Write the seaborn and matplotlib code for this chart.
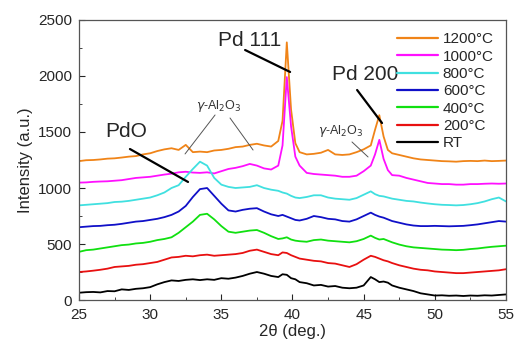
import pandas as pd
import matplotlib
matplotlib.use('Agg')
import matplotlib.pyplot as plt
from matplotlib.ticker import MultipleLocator
import seaborn as sns

# 2-theta grid (deg), finer near the Pd peaks
two_theta = [25, 25.5, 26, 26.5, 27, 27.5, 28, 28.5, 29, 29.5, 30, 30.5, 31, 31.5,
             32, 32.5, 33, 33.5, 34, 34.5, 35, 35.5, 36, 36.5, 37, 37.5, 38, 38.5, 39,
             39.3, 39.6, 39.9, 40.2,
             40.5, 41, 41.5, 42, 42.5, 43, 43.5, 44, 44.5, 45, 45.5,
             45.8, 46.1, 46.4, 46.7,
             47, 47.5, 48, 48.5, 49, 49.5, 50, 50.5, 51, 51.5, 52, 52.5, 53, 53.5, 54, 54.5, 55]

rt = [65, 70, 72, 68, 80, 78, 95, 90, 100, 105, 115, 140, 160, 175,
      170, 180, 185, 178, 185, 180, 195, 190, 200, 215, 235, 250, 235, 215, 205,
      230, 225, 195, 185,
      160, 150, 130, 135, 120, 125, 110, 105, 110, 130, 205,
      185, 160, 165, 155,
      130, 110, 95, 80, 60, 50, 40, 42, 38, 40, 36, 40, 38, 42, 40, 45, 50]

t200 = [250, 255, 262, 270, 280, 295, 300, 305, 315, 320, 330, 340, 360, 380,
        385, 395, 390, 400, 405, 395, 400, 405, 410, 420, 440, 450, 430, 410, 400,
        425, 420, 400, 385,
        370, 360, 350, 345, 330, 325, 310, 295, 320, 360, 395,
        385, 370, 355, 345,
        330, 310, 295, 280, 270, 265, 255, 250, 245, 240, 240, 245, 250, 255, 260, 265, 275]

t400 = [430, 445, 450, 460, 470, 480, 490, 495, 505, 510, 520, 535, 545, 560,
        600, 650, 700, 760, 770, 720, 660, 610, 600, 610, 620, 625, 600, 570, 545,
        550, 560, 540, 530,
        525, 520, 535, 540, 530, 525, 520, 515, 525, 545, 575,
        555, 540, 545, 530,
        515, 495, 480, 470, 465, 460, 455, 450, 448, 445, 448, 455, 460, 468, 475, 480, 485]

t600 = [650, 655, 660, 662, 668, 672, 680, 690, 700, 705, 715, 725, 740, 760,
        790, 840, 920, 990, 1000, 930, 860, 800, 790, 805, 815, 820, 790, 765, 750,
        760, 745, 730, 715,
        710, 725, 750, 740, 725, 720, 705, 700, 720, 750, 780,
        760, 745, 735, 720,
        705, 690, 675, 665, 660, 660, 662, 660, 658, 660, 662, 668, 675, 685, 695, 705, 700]

t800 = [845, 850, 855, 860, 865, 875, 878, 885, 895, 905, 915, 935, 960, 1000,
        1025, 1100, 1170, 1235, 1200, 1090, 1030, 1010, 1000, 1005, 1010, 1025, 1000, 985, 975,
        960, 950, 930, 915,
        910, 920, 935, 935, 915, 905, 900, 895, 910, 940, 970,
        945, 930, 925, 915,
        905, 895, 885, 880, 870, 862, 855, 850, 848, 845, 848, 855, 865, 880, 900, 915, 880]

t1000 = [1048, 1050, 1055, 1058, 1060, 1065, 1070, 1080, 1090, 1095, 1100, 1110, 1120, 1128,
         1140, 1145, 1138, 1135, 1140, 1130, 1150, 1170, 1180, 1195, 1215, 1200, 1175, 1165, 1200,
         1380, 1990, 1550, 1280,
         1200, 1135, 1125, 1120, 1115, 1110, 1100, 1100, 1110, 1150, 1200,
         1300, 1430, 1260, 1160,
         1115, 1110, 1090, 1075, 1060, 1045, 1040, 1035, 1035, 1030, 1030, 1035, 1035, 1038, 1040, 1038, 1040]

t1200 = [1240, 1248, 1250, 1255, 1262, 1265, 1272, 1280, 1285, 1300, 1310, 1330, 1345, 1355,
         1340, 1385, 1320, 1325, 1320, 1335, 1340, 1350, 1365, 1370, 1385, 1395, 1380, 1370, 1420,
         1600, 2300, 1700, 1400,
         1320, 1300, 1305, 1315, 1340, 1300, 1295, 1300, 1320, 1345, 1380,
         1520, 1650, 1460, 1340,
         1310, 1295, 1280, 1265, 1255, 1250, 1245, 1240, 1238, 1235, 1240, 1242, 1240, 1245, 1240, 1242, 1245]

labels = ['1200°C', '1000°C', '800°C', '600°C', '400°C', '200°C', 'RT']
series = [t1200, t1000, t800, t600, t400, t200, rt]
colors = ['#f08418', '#ff10ff', '#40e0e0', '#1010c8', '#10e010', '#e81010', '#000000']

rows = []
for lab, vals in zip(labels, series):
    for x, y in zip(two_theta, vals):
        rows.append({'2theta': x, 'intensity': y, 'sample': lab})
df = pd.DataFrame(rows)

sns.set_style('ticks')
plt.rcParams['font.family'] = ['Liberation Sans', 'DejaVu Sans']

fig = plt.figure(figsize=(5.15, 3.47), dpi=100)
ax = fig.add_axes([0.1534, 0.1354, 0.8291, 0.807])

sns.lineplot(data=df, x='2theta', y='intensity', hue='sample', hue_order=labels,
             palette=dict(zip(labels, colors)), linewidth=1.3, ax=ax)

ax.set_xlim(25, 55)
ax.set_ylim(0, 2500)
ax.xaxis.set_major_locator(MultipleLocator(5))
ax.xaxis.set_minor_locator(MultipleLocator(2.5))
ax.yaxis.set_major_locator(MultipleLocator(500))
ax.yaxis.set_minor_locator(MultipleLocator(250))
ax.tick_params(which='both', direction='in', labelsize=11)
ax.tick_params(which='major', length=4)
ax.tick_params(which='minor', length=2.5)
ax.tick_params(axis='x', pad=6)
ax.tick_params(axis='y', pad=5)
for s in ax.spines.values():
    s.set_color('#555555')
    s.set_linewidth(0.9)
ax.set_xlabel('2θ (deg.)', fontsize=12, labelpad=1)
ax.set_ylabel('Intensity (a.u.)', fontsize=12, labelpad=4)

# peak labels
ax.text(37.0, 2320, 'Pd 111', fontsize=15, ha='center', va='center')
ax.text(45.1, 2010, 'Pd 200', fontsize=15, ha='center', va='center')
ax.text(28.3, 1500, 'PdO', fontsize=15, ha='center', va='center')
ax.text(34.84, 1730, r'$\gamma$-Al$_2$O$_3$', fontsize=9, ha='center', va='center', color='#333333')
ax.text(43.4, 1510, r'$\gamma$-Al$_2$O$_3$', fontsize=9, ha='center', va='center', color='#333333')

ax.plot([36.67, 39.83], [2232, 2036], color='black', lw=1.6)
ax.plot([44.54, 46.29], [1875, 1580], color='black', lw=1.6)
ax.plot([28.58, 32.66], [1348, 1054], color='black', lw=1.6)
ax.plot([34.56, 32.45], [1652, 1304], color='#555555', lw=0.7)
ax.plot([35.61, 37.23], [1625, 1339], color='#555555', lw=0.7)
ax.plot([44.18, 45.31], [1411, 1277], color='#555555', lw=0.7)

leg = ax.legend(loc='upper right', bbox_to_anchor=(1.0, 1.0), frameon=False, fontsize=11,
                handlelength=2.7, labelspacing=0.22, handletextpad=0.3, borderaxespad=0.4)
for line in leg.get_lines():
    line.set_linewidth(1.6)

fig.savefig('out.png', dpi=100)
